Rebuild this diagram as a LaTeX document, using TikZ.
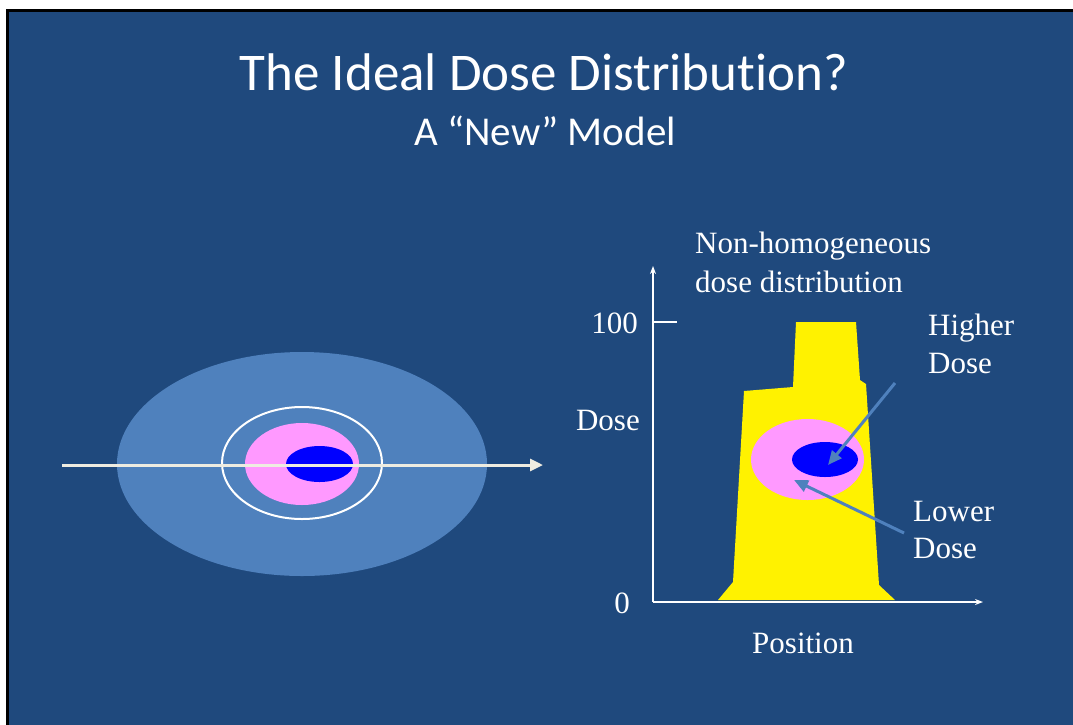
\documentclass[tikz,border=0pt]{standalone}
\usepackage{fontspec}
\setmainfont{Liberation Serif}
\newfontfamily\titlefont[Ligatures=NoCommon]{Carlito}
\usetikzlibrary{arrows.meta,positioning}
\definecolor{slideblue}{HTML}{1F497D}
\definecolor{lightblue}{HTML}{4F81BD}
\definecolor{dosepink}{HTML}{FF99FF}
\definecolor{ivory}{HTML}{EEECE1}

\begin{document}
\begin{tikzpicture}[x=1pt,y=-1pt,
    slidetext/.style={text=white, inner sep=0pt},
    seriflabel/.style={slidetext, font=\fontsize{31}{38}\selectfont, align=left},
    axisline/.style={white, line width=1.5pt},
    pointer/.style={lightblue, line width=3pt, -{Triangle[length=14pt,width=12pt]}},
    scanarrow/.style={ivory, line width=3pt, -{Triangle[length=13pt,width=12pt]}}]
        \useasboundingbox (0,0) rectangle (1073,724);

        % draw slide (fills run past the page edge)
        \fill[white] (0,0) rectangle (1080,730);
        \fill[black] (6,9) rectangle (1080,730);
        \fill[slideblue] (9,12) rectangle (1080,730);

        % draw title
        \node[slidetext, font=\titlefont\fontsize{53}{60}\selectfont, anchor=base] (title) at (544,90) {The Ideal Dose Distribution?};
        \node[slidetext, font=\titlefont\fontsize{41}{46}\selectfont, anchor=base] (subtitle) at (545,145) {A “New” Model};

        % draw target cross-section
        \fill[lightblue] (302,464) ellipse [x radius=185, y radius=112];
        \draw[white, line width=2pt] (302,463) ellipse [x radius=80, y radius=56];
        \fill[dosepink] (302,464) ellipse [x radius=57, y radius=41];
        \fill[blue] (319.5,464) ellipse [x radius=33.5, y radius=18];
        \coordinate (scan start) at (62,465);
        \coordinate (scan end) at (543,465);
        \draw[scanarrow] (scan start) -- (scan end);

        % draw dose profile
        \fill[yellow] (718,600) -- (733,582) -- (744,391) -- (793,387) -- (796,322)
          -- (856,322) -- (860,380) -- (866,384) -- (879,585) -- (895,600) -- cycle;
        \fill[dosepink] (807.5,459.5) ellipse [x radius=56.5, y radius=40.5];
        \fill[blue] (825,459.5) ellipse [x radius=33, y radius=17.5];

        % draw axes
        \coordinate (origin) at (653,602);
        \coordinate (y end) at (653,266);
        \coordinate (x end) at (983,602);
        \coordinate (tick start) at (653,322);
        \coordinate (tick end) at (677,322);
        \draw[axisline, -{Stealth[length=8pt,width=6pt]}] (origin) -- (y end);
        \draw[axisline, -{Stealth[length=8pt,width=6pt]}] (origin) -- (x end);
        \draw[axisline] (tick start) -- (tick end);

        % draw axis labels
        \node[seriflabel, anchor=base east] (hundred) at (638,333) {100};
        \node[seriflabel, anchor=base east] (dose) at (640,430) {Dose};
        \node[seriflabel, anchor=base east] (zero) at (630,613) {0};
        \node[seriflabel, anchor=base west] (position) at (752,653) {Position};
        \node[seriflabel, anchor=north west, font=\fontsize{31}{39}\selectfont] (profile) at (695,232) {Non-homogeneous\\dose distribution};

        % draw callouts
        \node[seriflabel, anchor=north west] (higher) at (928,314) {Higher\\Dose};
        \node[seriflabel, anchor=north west, font=\fontsize{31}{37}\selectfont] (lower) at (913,501) {Lower\\Dose};
        \coordinate (high tail) at (895,383);
        \coordinate (high tip) at (828,465);
        \coordinate (low tail) at (904,533);
        \coordinate (low tip) at (794,480);
        \draw[pointer] (high tail) -- (high tip);
        \draw[pointer] (low tail) -- (low tip);
\end{tikzpicture}
\end{document}
